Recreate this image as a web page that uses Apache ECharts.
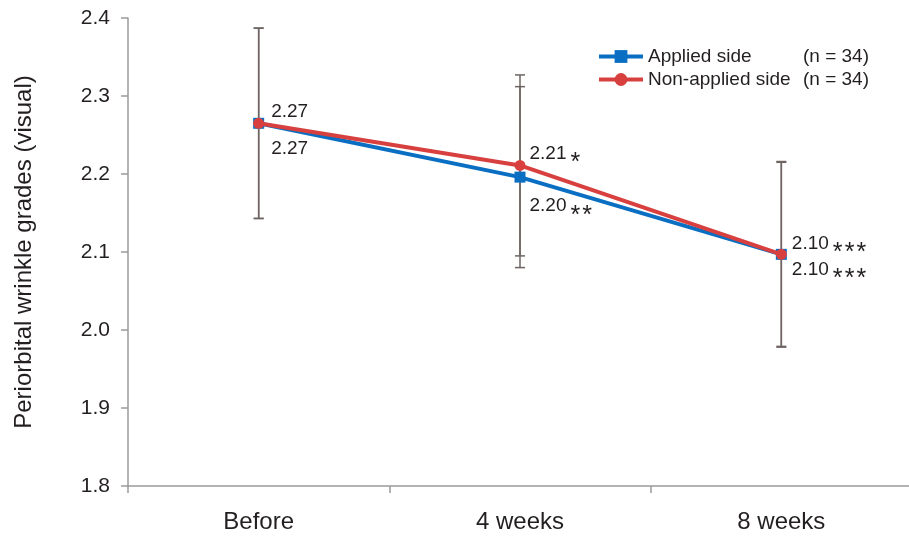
<!DOCTYPE html>
<html>
<head>
<meta charset="utf-8">
<script src="https://cdn.jsdelivr.net/npm/echarts@6/dist/echarts.min.js"></script>
<style>html,body{margin:0;padding:0;background:#fff;overflow:hidden;}#c{width:912px;height:536px;}</style>
</head>
<body>
<div id="c"></div>
<script>
const categories = ['Before', '4 weeks', '8 weeks'];
const appliedMean = [2.265, 2.196, 2.097];
const appliedSD = [0.122, 0.116, 0.119];
const nonAppliedMean = [2.265, 2.211, 2.097];
const nonAppliedSD = [0.122, 0.116, 0.118];
const appliedLabels = ['2.27', '2.20', '2.10'];
const appliedStars = ['', '**', '***'];
const nonAppliedLabels = ['2.27', '2.21', '2.10'];
const nonAppliedStars = ['', '*', '***'];
const yTicks = [1.8, 1.9, 2.0, 2.1, 2.2, 2.3, 2.4];
const legendNames = ['Applied side', 'Non-applied side'];
const legendN = ['(n = 34)', '(n = 34)'];

const FONT = 'Liberation Sans, Arial, Helvetica, sans-serif';
const TXT = '#231f20';
const BLUE = '#0a6fc2';
const RED = '#d8403f';
const ERR = '#6e6562';

// label layout offsets (presentation only)
const appliedOffsets = [[2, 25], [-1, 29], [0, 15]];
const nonAppliedOffsets = [[2, -12], [-1, -12], [0, -11]];

function labelData(means, labels, stars, offsets) {
  return means.map((v, i) => ({
    value: v,
    label: {
      offset: offsets[i],
      formatter: stars[i]
        ? '{v|' + labels[i] + '}{s|' + stars[i].split('').join('\u200a') + '}'
        : '{v|' + labels[i] + '}'
    }
  }));
}

function errData(means, sds) {
  return means.map((m, i) => [i, m - sds[i], m + sds[i]]);
}

function renderErr(params, api) {
  const lo = api.coord([api.value(0), api.value(1)]);
  const hi = api.coord([api.value(0), api.value(2)]);
  const w = 5;
  const st = { stroke: ERR, lineWidth: 1.5 };
  return {
    type: 'group',
    children: [
      { type: 'line', shape: { x1: hi[0], y1: hi[1], x2: lo[0], y2: lo[1] }, style: st },
      { type: 'line', shape: { x1: hi[0] - w, y1: hi[1], x2: hi[0] + w, y2: hi[1] }, style: st },
      { type: 'line', shape: { x1: lo[0] - w, y1: lo[1], x2: lo[0] + w, y2: lo[1] }, style: st }
    ]
  };
}

const labelRich = {
  v: { fontFamily: FONT, fontSize: 19, color: TXT },
  s: { fontFamily: FONT, fontSize: 25, color: TXT, padding: [20, 0, 0, 4] }
};

const chart = echarts.init(document.getElementById('c'), null, { renderer: 'canvas' });
chart.setOption({
  animation: false,
  backgroundColor: '#fff',
  textStyle: { fontFamily: FONT, color: TXT },
  grid: { left: 128, right: 0, top: 18, bottom: 50, containLabel: false },
  legend: {
    left: 592, top: 42, orient: 'vertical',
    itemWidth: 44, itemHeight: 16, itemGap: 4,
    data: legendNames,
    lineStyle: { width: 4 },
    formatter: function (name) {
      const i = legendNames.indexOf(name);
      return '{a|' + name + '}{b|' + legendN[i] + '}';
    },
    textStyle: {
      fontFamily: FONT, fontSize: 19, color: TXT,
      rich: {
        a: { fontFamily: FONT, fontSize: 19, color: TXT, width: 155 },
        b: { fontFamily: FONT, fontSize: 19, color: TXT }
      }
    }
  },
  xAxis: {
    type: 'category', data: categories, boundaryGap: true,
    axisLine: { lineStyle: { color: '#9a9a9a', width: 1.5 } },
    axisTick: { show: true, length: 7, lineStyle: { color: '#9a9a9a', width: 1.5 } },
    axisLabel: { fontFamily: FONT, fontSize: 24, color: TXT, margin: 24 }
  },
  yAxis: {
    type: 'value', min: 1.8, max: 2.4, interval: 0.1,
    name: 'Periorbital wrinkle grades (visual)', nameLocation: 'middle', nameGap: 92,
    nameTextStyle: { fontFamily: FONT, fontSize: 24, color: TXT },
    splitLine: { show: false },
    axisLine: { show: true, lineStyle: { color: '#9a9a9a', width: 1.5 } },
    axisTick: { show: true, length: 7, lineStyle: { color: '#9a9a9a', width: 1.5 } },
    axisLabel: {
      fontFamily: FONT, fontSize: 21, color: TXT, margin: 18,
      formatter: function (v) { return yTicks.indexOf(Math.round(v * 10) / 10) >= 0 ? v.toFixed(1) : ''; }
    }
  },
  series: [
    {
      type: 'custom', name: 'errApplied', renderItem: renderErr, z: 1,
      data: errData(appliedMean, appliedSD), silent: true
    },
    {
      type: 'custom', name: 'errNonApplied', renderItem: renderErr, z: 1,
      data: errData(nonAppliedMean, nonAppliedSD), silent: true
    },
    {
      type: 'line', name: legendNames[0], z: 3,
      data: labelData(appliedMean, appliedLabels, appliedStars, appliedOffsets),
      symbol: 'rect', symbolSize: 11,
      lineStyle: { color: BLUE, width: 4 },
      itemStyle: { color: BLUE },
      label: { show: true, position: 'right', distance: 5, rich: labelRich }
    },
    {
      type: 'line', name: legendNames[1], z: 4,
      data: labelData(nonAppliedMean, nonAppliedLabels, nonAppliedStars, nonAppliedOffsets),
      symbol: 'circle', symbolSize: 11,
      lineStyle: { color: RED, width: 4 },
      itemStyle: { color: RED },
      label: { show: true, position: 'right', distance: 5, rich: labelRich }
    }
  ]
});
</script>
</body>
</html>
